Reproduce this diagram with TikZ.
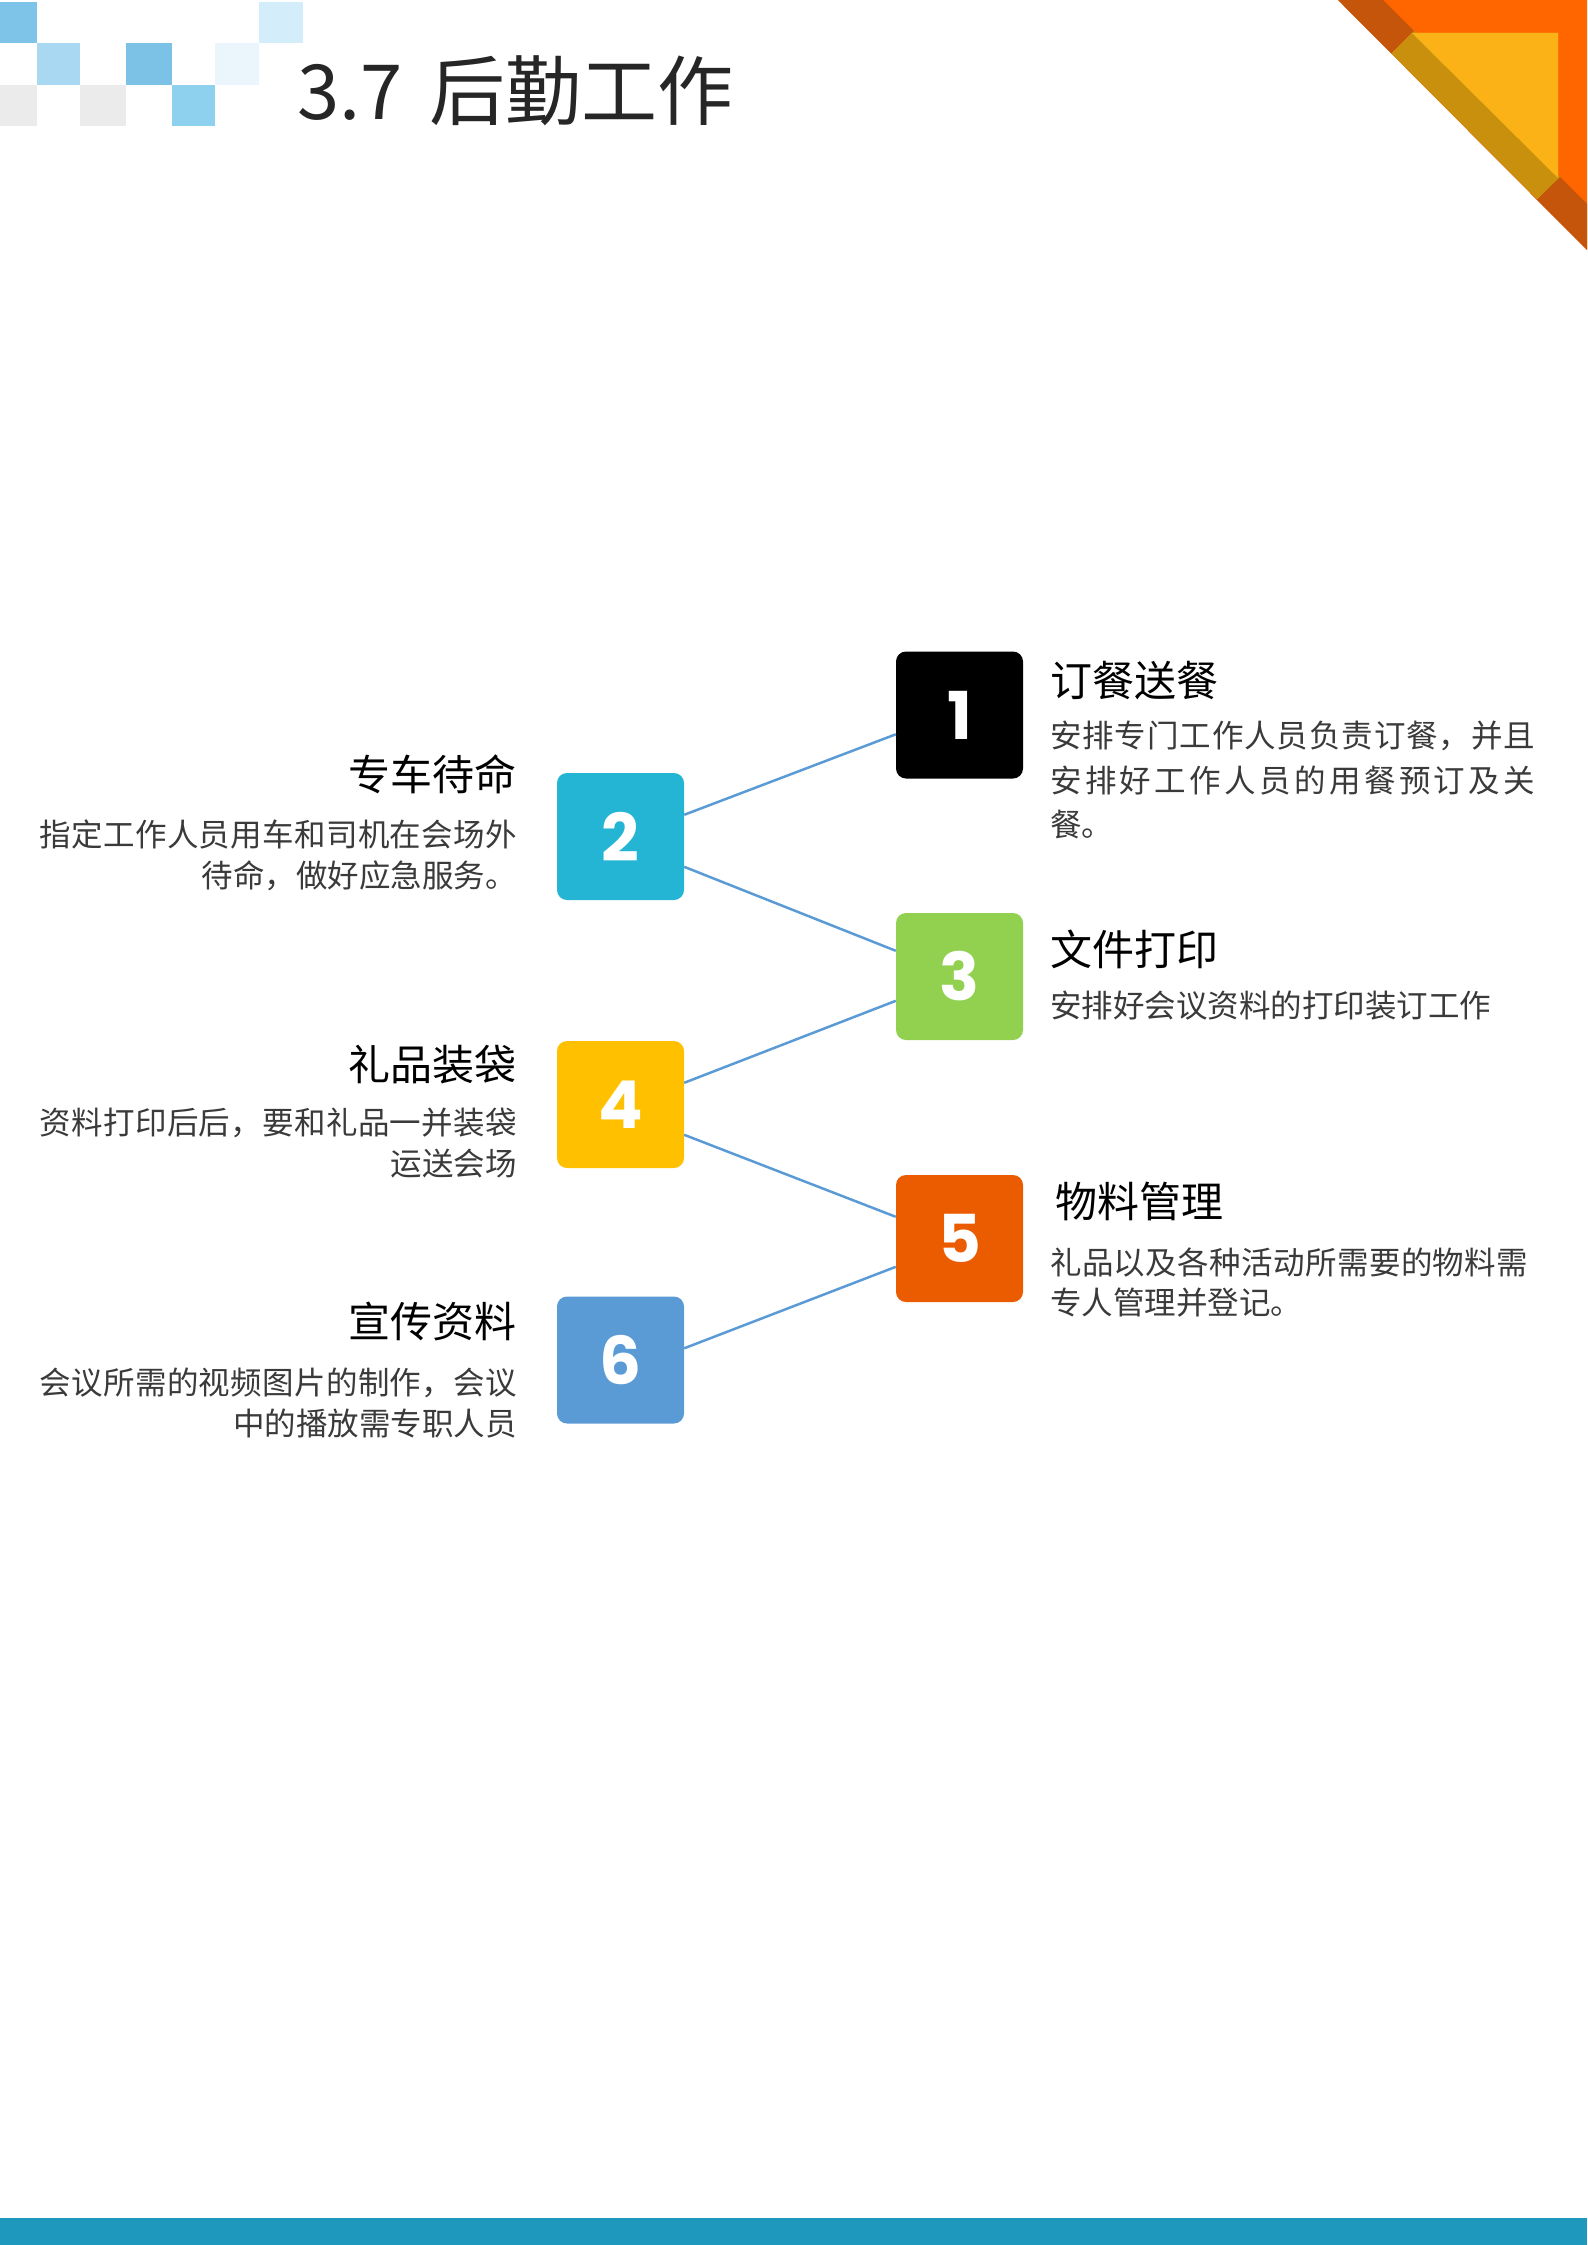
\documentclass[tikz,border=0pt]{standalone}
\usepackage{fontspec}
\setmainfont{Noto Sans CJK SC}
\newfontfamily\cjk{Noto Sans CJK SC}
\newfontfamily\digitfont{Poppins}
\usetikzlibrary{calc}
\definecolor{sqA}{HTML}{7EC4E8}
\definecolor{sqB}{HTML}{A9D9F2}
\definecolor{sqC}{HTML}{7CC2E6}
\definecolor{sqD}{HTML}{EAF5FC}
\definecolor{sqE}{HTML}{D4EDFA}
\definecolor{sqG}{HTML}{EBEBEB}
\definecolor{sqH}{HTML}{8ED1EF}
\definecolor{triOrange}{HTML}{FF6600}
\definecolor{triYellow}{HTML}{FBB216}
\definecolor{triBrown}{HTML}{C5550A}
\definecolor{triGold}{HTML}{C8900C}
\definecolor{barBlue}{HTML}{1E98BC}
\definecolor{linkblue}{HTML}{5B9BD5}
\definecolor{cOne}{HTML}{000000}
\definecolor{cTwo}{HTML}{23B5D3}
\definecolor{cThree}{HTML}{92D050}
\definecolor{cFour}{HTML}{FFC000}
\definecolor{cFive}{HTML}{EB5C01}
\definecolor{cSix}{HTML}{5B9BD5}
\definecolor{bodygray}{HTML}{3A3A3A}
\definecolor{titlegray}{HTML}{262626}
\def\spreadx#1{\ifx\relax#1\else#1\expandafter\spreadnext\fi}
\def\spreadnext#1{\ifx\relax#1\else\hfil#1\expandafter\spreadnext\fi}
\newcommand\spreadline[2]{\hbox to #1{\spreadx#2\relax}}
\tikzset{
  numbox/.style={rectangle, rounded corners=10pt, minimum size=127pt, inner sep=0pt,
    text=white, font=\digitfont\bfseries\fontsize{66pt}{66pt}\selectfont},
  link/.style={draw=linkblue, line width=2.5pt},
  ttl/.style={inner sep=0pt, text=black, font=\cjk\fontsize{42pt}{42pt}\selectfont},
  bodytxt/.style={inner sep=0pt, text=bodygray, font=\cjk\fontsize{31.5pt}{40pt}\selectfont},
}
\begin{document}
\begin{tikzpicture}[x=1pt,y=-1pt]
\useasboundingbox (0,0) rectangle (1587,2245);
% top-left squares
\fill[sqA] (0,2) rectangle (37,43);
\fill[sqE] (259,2) rectangle (303,43);
\fill[sqB] (37,43) rectangle (80,85);
\fill[sqC] (126,43) rectangle (172,85);
\fill[sqD] (215,43) rectangle (259,85);
\fill[sqG] (0,85) rectangle (37,126);
\fill[sqG] (80,85) rectangle (126,126);
\fill[sqH] (172,85) rectangle (215,126);
% title
\node[anchor=base west, inner sep=0pt, text=titlegray, font=\cjk\fontsize{76pt}{76pt}\selectfont] (title) at (297,120) {3.7\hspace{10pt} 后勤工作};
% top-right triangle
\fill[triOrange] (1338,0) -- (1587,0) -- (1587,250) -- cycle;
\fill[triBrown] (1338,0) -- (1383,0) -- (1587,204) -- (1587,250) -- cycle;
\fill[triYellow] (1412,33) -- (1558,33) -- (1558,178) -- (1537,199) -- (1391.5,53.5) -- cycle;
\fill[triGold] (1391.5,53.5) -- (1414,31) -- (1560,177) -- (1537,199) -- cycle;
\fill[triYellow] (1412,33) -- (1558,33) -- (1558,178) -- cycle;
% bottom bar
\fill[barBlue] (0,2218) rectangle (1587,2245);
% boxes
\node[numbox, fill=cOne]   (b1) at (959.5,715)   {\raisebox{-6pt}{1}};
\node[numbox, fill=cTwo]   (b2) at (620.5,836.5) {\raisebox{-6pt}{2}};
\node[numbox, fill=cThree] (b3) at (959.5,976.5) {\raisebox{-6pt}{3}};
\node[numbox, fill=cFour]  (b4) at (620.5,1104.5){\raisebox{-6pt}{4}};
\node[numbox, fill=cFive]  (b5) at (959.5,1238.5){\raisebox{-6pt}{5}};
\node[numbox, fill=cSix]   (b6) at (620.5,1360)  {\raisebox{-6pt}{6}};
% connectors
\draw[link] ($(b2.north east)+(0,42)$) -- ($(b1.north west)+(0,83)$);
\draw[link] ($(b2.north east)+(0,94)$) -- ($(b3.north west)+(0,38)$);
\draw[link] ($(b4.north east)+(0,42)$) -- ($(b3.north west)+(0,88)$);
\draw[link] ($(b4.north east)+(0,94)$) -- ($(b5.north west)+(0,42)$);
\draw[link] ($(b6.north east)+(0,52)$) -- ($(b5.north west)+(0,92)$);
% right texts
\node[ttl, anchor=west] (t1) at (1050,681) {订餐送餐};
\node[bodytxt, anchor=west] (t1a) at (1050,736) {\spreadline{485pt}{安排专门工作人员负责订餐，并且}};
\node[bodytxt, anchor=west] (t1b) at (1050,781) {\spreadline{485pt}{安排好工作人员的用餐预订及关}};
\node[bodytxt, anchor=west] (t1c) at (1050,824) {餐。};
\node[ttl, anchor=west] (t3) at (1050,949) {文件打印};
\node[bodytxt, anchor=west] (t3a) at (1050,1006) {安排好会议资料的打印装订工作};
\node[ttl, anchor=west] (t5) at (1055,1201) {物料管理};
\node[bodytxt, anchor=west] (t5a) at (1050,1262) {\spreadline{478pt}{礼品以及各种活动所需要的物料需}};
\node[bodytxt, anchor=west] (t5b) at (1050,1303) {专人管理并登记。};
% left texts
\node[ttl, anchor=east] (t2) at (517,774) {专车待命};
\node[bodytxt, anchor=east] (t2a) at (517,834) {\spreadline{477pt}{指定工作人员用车和司机在会场外}};
\node[bodytxt, anchor=east] (t2b) at (517,876) {待命，做好应急服务。};
\node[ttl, anchor=east] (t4) at (517,1065) {礼品装袋};
\node[bodytxt, anchor=east] (t4a) at (517,1123) {\spreadline{477pt}{资料打印后后，要和礼品一并装袋}};
\node[bodytxt, anchor=east] (t4b) at (517,1164) {运送会场};
\node[ttl, anchor=east] (t6) at (517,1321) {宣传资料};
\node[bodytxt, anchor=east] (t6a) at (517,1383) {\spreadline{477pt}{会议所需的视频图片的制作，会议}};
\node[bodytxt, anchor=east] (t6b) at (517,1424) {中的播放需专职人员};
\end{tikzpicture}
\end{document}
